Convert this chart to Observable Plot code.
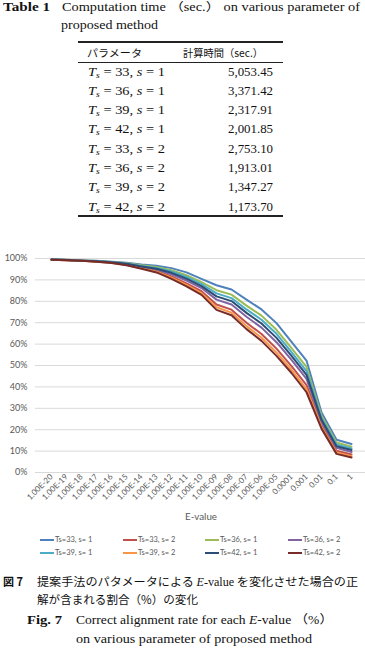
<!DOCTYPE html>
<html><head><meta charset="utf-8">
<script src="https://cdn.jsdelivr.net/npm/d3@7"></script>
<script src="https://cdn.jsdelivr.net/npm/@observablehq/plot@0.6"></script>
<style>
html,body{margin:0;padding:0;background:#fff;}
body{width:365px;height:662px;position:relative;overflow:hidden;color:#111;}
.t{position:absolute;white-space:nowrap;transform-origin:0 50%;}
.serif{font-family:"Liberation Serif","DejaVu Serif","Noto Sans CJK JP",serif;}
.jp{font-family:"Noto Sans CJK JP",sans-serif;}
.rule{position:absolute;background:#222;}
#chart{position:absolute;left:0;top:250px;}
.leg{position:absolute;font-family:Lato,"Open Sans",sans-serif;font-size:7.5px;color:#595959;white-space:nowrap;line-height:10px;}
.leg span.sw{display:inline-block;width:14px;height:2px;vertical-align:middle;margin-right:1px;}
</style></head><body>
<div id="chart"></div>
<script>
// ---- table data ----
const paramTs = [33, 36, 39, 42, 33, 36, 39, 42];
const paramS = [1, 1, 1, 1, 2, 2, 2, 2];
const compTime = ["5,053.45", "3,371.42", "2,317.91", "2,001.85", "2,753.10", "1,913.01", "1,347.27", "1,173.70"];

// ---- chart data ----
const categories = ["1.00E-20","1.00E-19","1.00E-18","1.00E-17","1.00E-16","1.00E-15","1.00E-14","1.00E-13","1.00E-12","1.00E-11","1.00E-10","1.00E-09","1.00E-08","1.00E-07","1.00E-06","1.00E-05","0.0001","0.001","0.01","0.1","1"];
const seriesNames = ["Ts=33, s= 1","Ts=33, s= 2","Ts=36, s= 1","Ts=36, s= 2","Ts=39, s= 1","Ts=39, s= 2","Ts=42, s= 1","Ts=42, s= 2"];
const seriesColors = ["#4F81BD","#C0504D","#9BBB59","#8064A2","#4BACC6","#F79646","#2C4D75","#772C2A"];
const ts33s1 = [99.6,99.4,99.1,98.9,98.5,98.0,97.2,96.6,95.5,93.5,90.5,87.5,85.5,80.8,76.2,69.8,61.0,52.3,28.0,15.3,13.3];
const ts33s2 = [99.4,99.2,98.9,98.6,98.0,97.1,95.6,94.2,91.6,88.4,84.7,78.5,76.1,70.0,64.7,57.9,49.7,40.8,22.2,10.2,8.4];
const ts36s1 = [99.6,99.4,99.1,98.8,98.4,97.8,96.8,96.0,94.5,92.2,89.0,85.2,83.1,78.0,73.3,66.7,58.1,49.3,26.5,14.0,12.0];
const ts36s2 = [99.5,99.3,99.0,98.7,98.2,97.3,96.0,94.8,92.6,89.7,86.2,80.8,78.5,72.8,67.7,60.9,52.6,43.7,23.7,11.5,9.6];
const ts39s1 = [99.5,99.3,99.0,98.8,98.3,97.6,96.5,95.6,93.9,91.4,88.0,83.7,81.5,76.2,71.4,64.8,56.2,47.4,25.5,13.1,11.2];
const ts39s2 = [99.4,99.2,98.9,98.5,98.0,96.9,95.4,93.8,91.0,87.7,83.8,77.2,74.7,68.4,63.0,56.0,48.0,39.0,21.3,9.4,7.6];
const ts42s1 = [99.5,99.3,99.0,98.7,98.2,97.5,96.3,95.2,93.3,90.6,87.1,82.3,80.1,74.6,69.6,62.9,54.5,45.6,24.6,12.3,10.5];
const ts42s2 = [99.4,99.2,98.9,98.5,97.9,96.8,95.2,93.5,90.5,87.0,83.0,76.0,73.5,67.0,61.5,54.5,46.5,37.5,20.5,8.7,7.0];
const yTicks = [0,0.1,0.2,0.3,0.4,0.5,0.6,0.7,0.8,0.9,1.0];

const seriesValues = [ts33s1, ts33s2, ts36s1, ts36s2, ts39s1, ts39s2, ts42s1, ts42s2];
const rows = [];
seriesValues.forEach((vals, k) => vals.forEach((v, i) => rows.push({cat: categories[i], value: v / 100, series: seriesNames[k]})));

// ---- helpers ----
function txt(html, cls, x, cy, fs, w, extra) {
  const d = document.createElement("div");
  d.className = "t " + cls;
  d.innerHTML = html;
  d.style.fontSize = fs + "px";
  d.style.lineHeight = fs * 1.2 + "px";
  d.style.left = x + "px";
  d.style.top = (cy - fs * 0.6) + "px";
  if (extra) Object.assign(d.style, extra);
  document.body.appendChild(d);
  if (w) {
    const r = d.getBoundingClientRect().width;
    d.style.transform = `scaleX(${w / r})`;
  }
  return d;
}
function rule(x1, x2, y, h) {
  const d = document.createElement("div");
  d.className = "rule";
  Object.assign(d.style, {left: x1 + "px", width: (x2 - x1) + "px", top: (y - h / 2) + "px", height: h + "px"});
  document.body.appendChild(d);
}

// ---- table ----
txt("<b>Table 1</b>", "serif", 3, 8, 11.5, 47);
txt("Computation time （sec.） on various parameter of", "serif", 62, 8, 11.5, 298);
txt("proposed method", "serif", 61, 25.5, 11.5, 97);
rule(78, 283, 42, 2);
txt("パラメータ", "jp", 87, 53, 10.5, 55);
txt("計算時間（sec.）", "jp", 183, 53, 10.5, 80);
rule(78, 283, 62.5, 1);
const rowY = [71.7, 91, 110.3, 129.5, 148.8, 168.1, 187.4, 206.7];
paramTs.forEach((t, i) => {
  txt(`<i>T</i><sub style="font-size:8px;vertical-align:-2px"><i>s</i></sub> = ${t}, <i>s</i> = ${paramS[i]}`, "serif", 88, rowY[i], 12, 77);
  const d = txt(compTime[i], "serif", 0, rowY[i], 12, null);
  const w = d.getBoundingClientRect().width;
  d.style.left = (273 - 45) + "px";
  d.style.transform = `scaleX(${45 / w})`;
});
rule(78, 283, 216, 1.5);

// ---- chart ----
const chart = Plot.plot({
  width: 365, height: 275,
  marginLeft: 35, marginRight: 0, marginTop: 8, marginBottom: 53,
  style: {fontFamily: "Lato, 'Open Sans', sans-serif", color: "#595959", background: "transparent", overflow: "visible"},
  x: {type: "point", domain: categories, range: [43, 359], label: null},
  y: {domain: [0, 1], label: null},
  color: {domain: seriesNames, range: seriesColors},
  marks: [
    Plot.gridY(yTicks, {stroke: "#D9D9D9", strokeOpacity: 1}),
    Plot.axisY(yTicks, {tickFormat: d3.format(".0%"), tickSize: 0, tickPadding: 8, fontSize: 9, label: null}),
    Plot.axisX(categories, {tickRotate: -45, tickSize: 0, tickPadding: 3, fontSize: 8, label: null}),
    Plot.line(rows, {x: "cat", y: "value", z: "series", stroke: "series", strokeWidth: 2})
  ]
});
document.getElementById("chart").appendChild(chart);

txt("E-value", "", 185, 517, 9.5, 32, {fontFamily: "Lato, 'Open Sans', sans-serif", color: "#595959"});

// ---- legend ----
const legX = [40, 123, 205, 288];
const legY = [540, 553];
seriesNames.forEach((n, k) => {
  const d = document.createElement("div");
  d.className = "leg";
  d.style.left = legX[k % 4] + "px";
  d.style.top = (legY[Math.floor(k / 4)] - 5) + "px";
  d.innerHTML = `<span class="sw" style="background:${seriesColors[k]}"></span>${n}`;
  document.body.appendChild(d);
});

// ---- captions ----
txt("<b>図 7</b>", "jp", 3, 582, 11.5, 20);
txt("提案手法のパタメータによる <i class='serif'>E</i><span class='serif'>-value</span> を変化させた場合の正", "jp", 37, 582, 11.5, 321);
txt("解が含まれる割合（%）の変化", "jp", 37, 600, 11.5, 161);
txt("<b>Fig. 7</b>", "serif", 27, 620, 12, 35);
txt("Correct alignment rate for each <i>E</i>-value （%）", "serif", 76, 620, 12, 257);
txt("on various parameter of proposed method", "serif", 76, 639.5, 12, 236);
</script>
</body></html>
